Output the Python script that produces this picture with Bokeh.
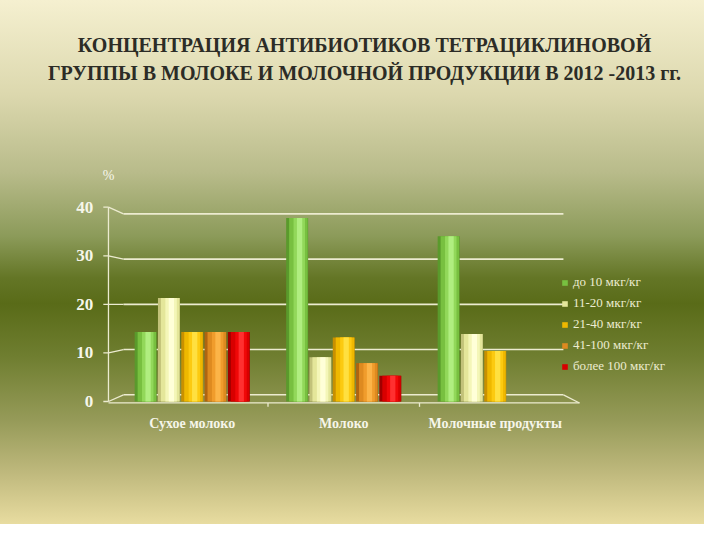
import numpy as np
from bokeh.plotting import figure
from bokeh.models import Legend, LegendItem, ColumnDataSource
from bokeh.core.properties import value
from bokeh.transform import dodge
from bokeh.embed import file_html
from bokeh.resources import INLINE

categories = ["Сухое молоко", "Молоко", "Молочные продукты"]
series_names = ["до 10 мкг/кг", "11-20 мкг/кг", "21-40 мкг/кг", "41-100 мкг/кг", "более 100 мкг/кг"]
s_do10 = [14.3, 37.8, 34.0]
s_11_20 = [21.3, 9.1, 13.9]
s_21_40 = [14.3, 13.2, 10.4]
s_41_100 = [14.3, 7.9, float("nan")]
s_over100 = [14.3, 5.3, float("nan")]
y_ticks = [0, 10, 20, 30, 40]
y_unit = "%"
title_lines = ["КОНЦЕНТРАЦИЯ АНТИБИОТИКОВ ТЕТРАЦИКЛИНОВОЙ",
               "ГРУППЫ В МОЛОКЕ И МОЛОЧНОЙ ПРОДУКЦИИ В 2012 -2013 гг."]

series = [s_do10, s_11_20, s_21_40, s_41_100, s_over100]
# (edge/dark, base, light, highlight)
colors = [("#5a9a2c", "#78c040", "#92d85a", "#b0ee80"),
          ("#c2c27a", "#e4e69a", "#f4f6b8", "#ffffd8"),
          ("#c89000", "#eeb800", "#fcca10", "#ffe040"),
          ("#b06410", "#de8a20", "#f09c2c", "#fcb448"),
          ("#a00000", "#d80000", "#f00808", "#ff3030")]
SERIF = value("Liberation Serif")
LINE = "#ecebd0"
TXT = "#f6f6ea"

# numeric mapping: x=0 at left wall, categories centred at 0.5, 1.5, 2.5
px_x = 151.5
px_y = 4.8575
W, H = 704, 524
x0_px, y0_px = 116, 401
p = figure(width=W, height=H, output_backend="svg", toolbar_location=None,
           x_range=(-x0_px / px_x, (W - x0_px) / px_x),
           y_range=(-(H - y0_px) / px_y, y0_px / px_y),
           x_axis_location=None, y_axis_location=None,
           min_border=0, min_border_left=0, min_border_right=0, min_border_top=0, min_border_bottom=0)
p.styles = {"background": "linear-gradient(to bottom, #f5f0d0 0%, #dcd8ae 18%, #b8bb8a 33%, "
                          "#8c9b5a 45%, #647626 53%, #596b18 58%, #6f7e30 68%, #959a58 80%, "
                          "#beb87c 90%, #e8dca0 100%)"}
p.background_fill_alpha = 0
p.border_fill_alpha = 0
p.outline_line_color = None
p.xgrid.visible = False
p.ygrid.visible = False

cat_x = np.arange(len(categories)) + 0.5
ncat = len(categories)

# --- pseudo-3D walls: back grid lines, left diagonals, floor
ticks = np.array(y_ticks, dtype=float)
back = 20 + (ticks - 20) * 0.931
ax_x = -0.053
wall_l = 0.046
wall_r = ncat - 0.05
p.segment(x0=[wall_l] * len(ticks), y0=back, x1=[wall_r] * len(ticks), y1=back,
          line_color=LINE, line_width=1.6)
p.segment(x0=[ax_x] * len(ticks), y0=ticks, x1=[wall_l] * len(ticks), y1=back,
          line_color=LINE, line_width=1.3)
p.segment(x0=[ax_x - 0.034] * len(ticks), y0=ticks, x1=[ax_x] * len(ticks), y1=ticks,
          line_color=LINE, line_width=1.3)
p.segment(x0=[ax_x], y0=[ticks[0]], x1=[ax_x], y1=[ticks[-1]], line_color=LINE, line_width=1.3)
# floor front edge and right diagonal
p.segment(x0=[ax_x], y0=[-0.3], x1=[ncat + 0.056], y1=[-0.3], line_color=LINE, line_width=1.3)
p.segment(x0=[wall_r], y0=[back[0]], x1=[ncat + 0.056], y1=[-0.3], line_color=LINE, line_width=1.3)
p.segment(x0=np.arange(1, ncat), y0=[-0.3] * (ncat - 1), x1=np.arange(1, ncat), y1=[-1.1] * (ncat - 1),
          line_color=LINE, line_width=1.3)

# --- bars
src = {"x": cat_x}
for i, s in enumerate(series):
    src[f"s{i}"] = s
source = ColumnDataSource(src)

pitch = 0.1538
bw = 0.145
items = []
for i in range(len(series)):
    off = (i - 2) * pitch
    dark, base, light, hi = colors[i]
    p.vbar(x=dodge("x", off), top=f"s{i}", width=bw, bottom=0,
           source=source, fill_color=dark, line_color=None)
    r = p.vbar(x=dodge("x", off + 0.008), top=f"s{i}", width=bw * 0.84, bottom=0,
               source=source, fill_color=base, line_color=None)
    p.vbar(x=dodge("x", off + 0.014), top=f"s{i}", width=bw * 0.52, bottom=0,
           source=source, fill_color=light, line_color=None)
    p.vbar(x=dodge("x", off + 0.016), top=f"s{i}", width=bw * 0.24, bottom=0,
           source=source, fill_color=hi, line_color=None)
    items.append(LegendItem(label=series_names[i], renderers=[r]))

legend = Legend(items=items, location=(561, 150 + (H - 524)), background_fill_alpha=0,
                border_line_color=None,
                label_text_font="Liberation Serif", label_text_font_size="13px",
                label_text_color="#ececd0", glyph_width=7, glyph_height=7, spacing=5,
                label_standoff=5, padding=0, margin=0, label_height=14)
p.add_layout(legend, "center")

# --- axis texts
p.text(x=[ax_x - 0.1] * len(ticks), y=ticks, text=[str(t) for t in y_ticks],
       text_font=SERIF, text_font_style="bold", text_font_size="17px", text_color=TXT,
       text_align="right", text_baseline="middle")
p.text(x=cat_x, y=[-4.5] * ncat, text=categories,
       text_font=SERIF, text_font_style="bold", text_font_size="14px", text_color=TXT,
       text_align="center", text_baseline="middle")
p.text(x=[ax_x], y=[46.5], text=[y_unit], text_font=SERIF, text_font_size="14px",
       text_color=TXT, text_align="center", text_baseline="middle")

# --- title
p.text(x=[1.637, 1.637], y=[73.3, 67.7], text=title_lines,
       text_font=SERIF, text_font_style="bold", text_font_size="20px", text_color="#2c2c26",
       text_align="center", text_baseline="middle")

open("out.html", "w").write(file_html(p, INLINE))
